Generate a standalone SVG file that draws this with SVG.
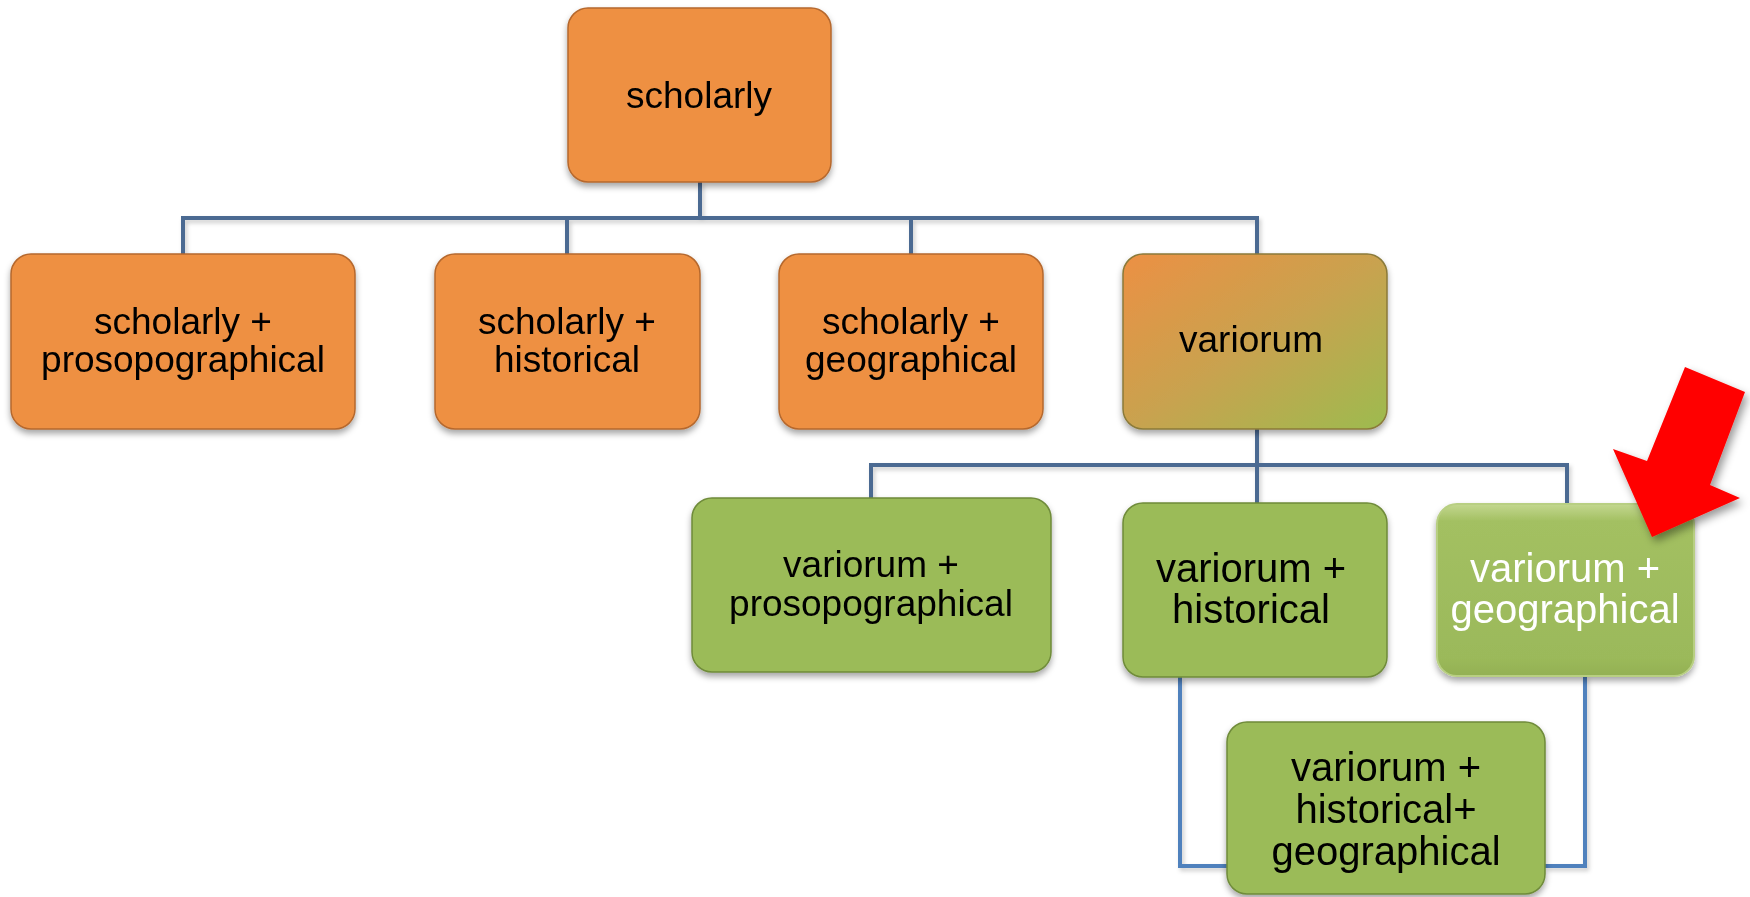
<svg xmlns="http://www.w3.org/2000/svg" width="1750" height="897" viewBox="0 0 1750 897">
<defs>
<style>
.box{stroke-width:1.5}
.or{fill:#ee9043;stroke:#b5682d}
.gr{fill:#9bbb59;stroke:#6f8b3a}
.t{font-family:"Liberation Sans",Arial,sans-serif;font-size:37px;fill:#000;text-anchor:middle}
.b{font-size:40px}
.w{fill:#fff}
.c1{fill:none;stroke:#4b6a92;stroke-width:4}
.c2{fill:none;stroke:#4f81bd;stroke-width:4}
</style>
<filter id="sh" x="-10%" y="-10%" width="120%" height="130%">
<feDropShadow dx="0" dy="4" stdDeviation="3" flood-color="#000" flood-opacity="0.35"/>
</filter>
<filter id="lsh" x="-10%" y="-10%" width="120%" height="130%">
<feDropShadow dx="2" dy="3" stdDeviation="2" flood-color="#000" flood-opacity="0.2"/>
</filter>
<filter id="ash" x="-20%" y="-20%" width="140%" height="140%">
<feDropShadow dx="3" dy="5" stdDeviation="4" flood-color="#000" flood-opacity="0.4"/>
</filter>
<linearGradient id="varg" x1="0" y1="0" x2="1" y2="1">
<stop offset="0" stop-color="#ec9043"/>
<stop offset="0.5" stop-color="#c9a24f"/>
<stop offset="1" stop-color="#9dbb4f"/>
</linearGradient>
<linearGradient id="geog" x1="0" y1="0" x2="0" y2="1">
<stop offset="0" stop-color="#c3d78f"/>
<stop offset="0.1" stop-color="#a3c062"/>
<stop offset="0.9" stop-color="#9bb95a"/>
<stop offset="1" stop-color="#93b053"/>
</linearGradient>
</defs>

<g id="connectors">
<g filter="url(#lsh)">
<path class="c1" d="M700 182 V218 M183 254 V218 H1257 V254 M567 218 V254 M911 218 V254"/>
<path class="c1" d="M1257 429 V465 M871 498 V465 H1567 V504 M1257 465 V503"/>
<path class="c2" d="M1180 677 V866 H1227"/>
<path class="c2" d="M1585 676 V866 H1545"/>
</g>
</g>

<g id="n-scholarly" filter="url(#sh)">
<rect class="box or" x="568" y="8" width="263" height="174" rx="20"/>
<text class="t" x="699" y="108">scholarly</text>
</g>

<g id="n-sch-pros" filter="url(#sh)">
<rect class="box or" x="11" y="254" width="344" height="175" rx="20"/>
<text class="t" x="183" y="334">scholarly +</text>
<text class="t" x="183" y="372">prosopographical</text>
</g>

<g id="n-sch-hist" filter="url(#sh)">
<rect class="box or" x="435" y="254" width="265" height="175" rx="20"/>
<text class="t" x="567" y="334">scholarly +</text>
<text class="t" x="567" y="372">historical</text>
</g>

<g id="n-sch-geo" filter="url(#sh)">
<rect class="box or" x="779" y="254" width="264" height="175" rx="20"/>
<text class="t" x="911" y="334">scholarly +</text>
<text class="t" x="911" y="372">geographical</text>
</g>

<g id="n-variorum" filter="url(#sh)">
<rect class="box" fill="url(#varg)" stroke="#8a7a3a" x="1123" y="254" width="264" height="175" rx="20"/>
<text class="t" x="1251" y="352">variorum</text>
</g>

<g id="n-var-pros" filter="url(#sh)">
<rect class="box gr" x="692" y="498" width="359" height="174" rx="20"/>
<text class="t" x="871" y="577">variorum +</text>
<text class="t" x="871" y="616">prosopographical</text>
</g>

<g id="n-var-hist" filter="url(#sh)">
<rect class="box gr" x="1123" y="503" width="264" height="174" rx="20"/>
<text class="t b" x="1251" y="582">variorum +</text>
<text class="t b" x="1251" y="623">historical</text>
</g>

<g id="n-var-geo" filter="url(#sh)">
<rect x="1437" y="504" width="257" height="172" rx="20" fill="url(#geog)" stroke="#b8cf82" stroke-width="2"/>
<text class="t b w" x="1565" y="582">variorum +</text>
<text class="t b w" x="1565" y="623">geographical</text>
</g>

<g id="n-var-hist-geo" filter="url(#sh)">
<rect class="box gr" x="1227" y="722" width="318" height="172" rx="20"/>
<text class="t b" x="1386" y="781">variorum +</text>
<text class="t b" x="1386" y="823">historical+</text>
<text class="t b" x="1386" y="865">geographical</text>
</g>

<g id="red-arrow" filter="url(#ash)">
<polygon points="1685,367 1745,392 1710,485 1740,498 1652,537 1613,449 1647,461" fill="#ff0000"/>
</g>
</svg>
